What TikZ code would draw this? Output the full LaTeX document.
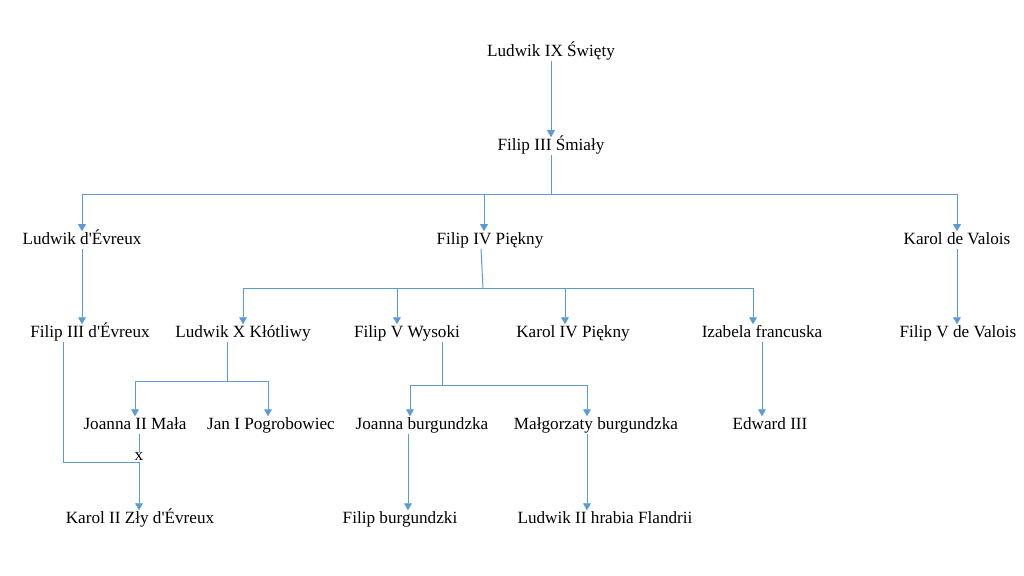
\documentclass[tikz,border=0pt]{standalone}
\usepackage{fontspec}
\setmainfont{Liberation Serif}[Ligatures=TeXOff]
\usetikzlibrary{arrows.meta}
\definecolor{linia}{HTML}{5B9BD5}
\tikzset{
  osoba/.style={inner sep=1pt, text height=8pt, text depth=2pt, font=\fontsize{12.2}{14}\selectfont},
  lin/.style={draw=linia, line width=0.7pt},
  strz/.style={lin, -{Triangle[width=5.5pt,length=5pt]}},
}

\begin{document}
\begin{tikzpicture}[x=0.025cm,y=-0.025cm]
\useasboundingbox (0,0) rectangle (1024,576);
% pokolenia
\node[osoba] (ludwik9) at (551,52) {Ludwik IX Święty};
\node[osoba] (filip3) at (551,146) {Filip III Śmiały};

\node[osoba] (ldev) at (82,240) {Ludwik d'Évreux};
\node[osoba] (f4) at (490,240) {Filip IV Piękny};
\node[osoba] (kval) at (957,240) {Karol de Valois};

\node[osoba] (f3e) at (90,333) {Filip III d'Évreux};
\node[osoba] (l10) at (243,333) {Ludwik X Kłótliwy};
\node[osoba] (f5w) at (407,333) {Filip V Wysoki};
\node[osoba] (k4) at (573,333) {Karol IV Piękny};
\node[osoba] (iza) at (762,333) {Izabela francuska};
\node[osoba] (f5v) at (958,333) {Filip V de Valois};

\node[osoba] (j2) at (135,425) {Joanna II Mała};
\node[osoba] (jan1) at (271,425) {Jan I Pogrobowiec};
\node[osoba] (jb) at (422,425) {Joanna burgundzka};
\node[osoba] (mb) at (596,425) {Małgorzaty burgundzka};
\node[osoba] (ed3) at (770,425) {Edward III};
\node[osoba, text height=5pt, text depth=0pt] (slub) at (139,457) {x};

\node[osoba] (k2) at (140,519) {Karol II Zły d'Évreux};
\node[osoba] (fb) at (400,519) {Filip burgundzki};
\node[osoba] (l2) at (605,519) {Ludwik II hrabia Flandrii};

% Ludwik IX -> Filip III -> dzieci
\draw[strz] (ludwik9.south) -- (filip3.north);
\coordinate (r1) at (549,194);
\draw[lin] (filip3.south) -- (filip3.south |- r1);
\draw[strz] (r1) -| (ldev.north);
\draw[strz] (r1) -| ([xshift=-0.15cm]f4.north);
\draw[strz] (r1) -| (kval.north);

\draw[strz] (ldev.south) -- (ldev.south |- f3e.north);
\draw[strz] (kval.south) -- (kval.south |- f5v.north);

% dzieci Filipa IV
\coordinate (r2) at (483,288);
\draw[lin] ([xshift=-0.225cm]f4.south) -- (r2);
\draw[strz] (r2) -| (l10.north);
\draw[strz] (r2) -| ([xshift=-0.25cm]f5w.north);
\draw[strz] (r2) -| ([xshift=-0.2cm]k4.north);
\draw[strz] (r2) -| ([xshift=-0.225cm]iza.north);

% dzieci Ludwika X
\coordinate (r3) at (227,381);
\draw[lin] (r3 |- l10.south) -- (r3);
\draw[strz] (r3) -| (j2.north);
\draw[strz] (r3) -| ([xshift=-0.075cm]jan1.north);

% dzieci Filipa V
\coordinate (r4) at (442,385);
\draw[lin] (r4 |- f5w.south) -- (r4);
\draw[strz] (r4) -| ([xshift=-0.3cm]jb.north);
\draw[strz] (r4) -| ([xshift=-0.225cm]mb.north);

\draw[strz] (iza.south) -- (iza.south |- ed3.north);
\draw[strz] ([xshift=-0.35cm]jb.south) -- ([xshift=-0.35cm]jb.south |- fb.north);
\draw[strz] ([xshift=-0.225cm]mb.south) -- ([xshift=-0.225cm]mb.south |- l2.north);

% malzenstwo
\draw[lin] (slub.north |- j2.south) -- (slub.north);
\draw[lin] ([xshift=-0.675cm]f3e.south) |- (slub.south);
\draw[strz] (slub.south) -- (slub.south |- k2.north);
\end{tikzpicture}
\end{document}
